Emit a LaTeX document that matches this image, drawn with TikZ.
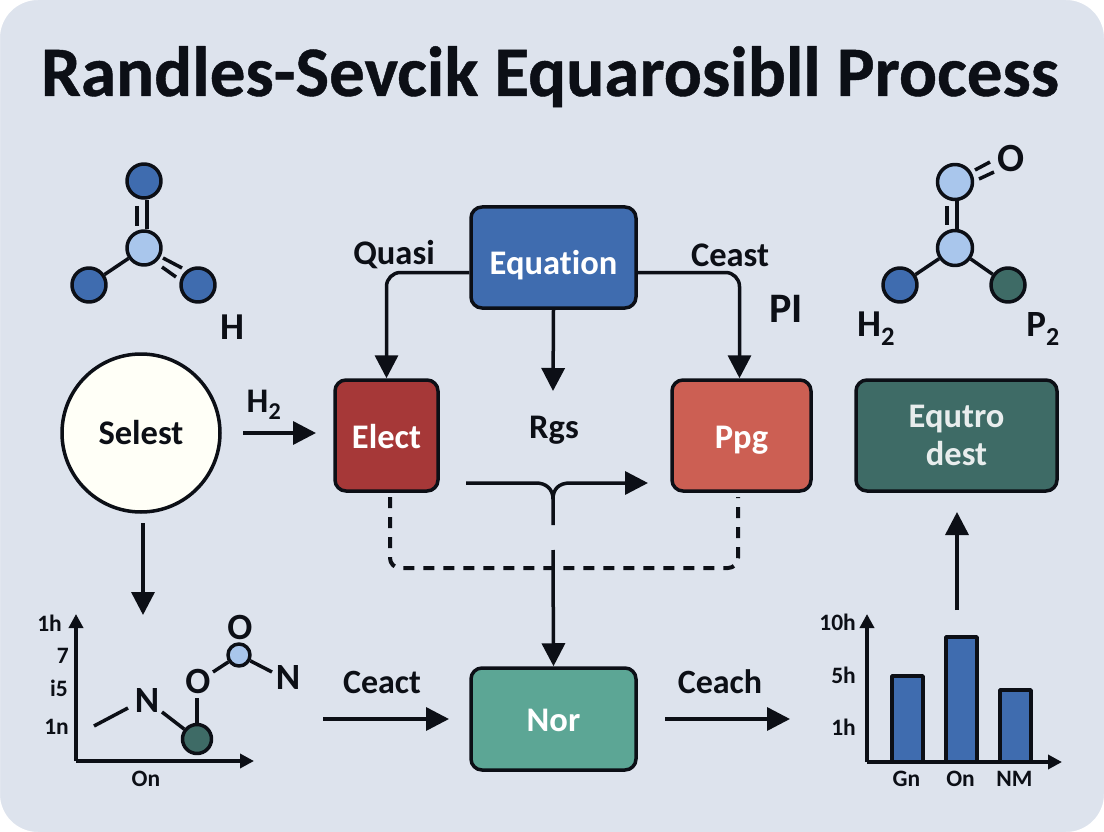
\documentclass[tikz,border=0pt]{standalone}
\usepackage{fontspec}
\setmainfont[Ligatures=NoCommon]{Carlito}
\newfontfamily\titlefont[Ligatures=NoCommon, BoldFeatures={FakeBold=0.6}]{Carlito}
\usetikzlibrary{arrows.meta, positioning, calc}
\definecolor{rspage}{HTML}{DDE3ED}
\definecolor{rsink}{HTML}{0C0F16}
\definecolor{rsblue}{HTML}{3F6CAF}
\definecolor{rslight}{HTML}{A9C6EC}
\definecolor{rsdeepred}{HTML}{A63838}
\definecolor{rsred}{HTML}{CC5F53}
\definecolor{rspine}{HTML}{3E6B66}
\definecolor{rsteal}{HTML}{5CA695}
\tikzset{
  box/.style={draw=rsink, line width=3.5pt, rounded corners=11pt, inner sep=0pt, align=center,
              text=white, font=\bfseries\fontsize{34.5}{38}\selectfont},
  lab/.style={text=rsink, inner sep=0pt, font=\bfseries\fontsize{34.5}{38}\selectfont},
  big/.style={text=rsink, inner sep=0pt, font=\bfseries\fontsize{37}{40}\selectfont},
  tick/.style={text=rsink, inner sep=0pt, font=\bfseries\fontsize{23.5}{26}\selectfont},
  atom/.style={circle, draw=rsink, line width=3.5pt, inner sep=0pt, minimum size=#1},
  bond/.style={draw=rsink, line width=3.5pt},
  flow/.style={draw=rsink, line width=3.5pt, -{Triangle[length=23pt,width=23pt]}},
  axis/.style={draw=rsink, line width=3.5pt, -{Triangle[length=14pt,width=14pt]}},
}
\begin{document}
\begin{tikzpicture}[x=1pt, y=-1pt, line join=round]
  \useasboundingbox (0,0) rectangle (1104,832);
  \fill[rspage] (0,0) rectangle (1104,832);
  \node[inner sep=0pt, text=rsink, anchor=base] (title) at (550,96)
    {\titlefont\bfseries\fontsize{71}{74}\selectfont Randles-Sevcik Equarosibll Process};

  % main boxes
  \node[box, fill=rsblue, minimum width=165pt, minimum height=101pt, text height=34pt, text depth=0pt] (equation) at (553.5,257.5) {Equation};
  \node[box, fill=rsdeepred, minimum width=103pt, minimum height=111pt, text height=25pt, text depth=0pt] (elect) at (386.5,435.5) {Elect};
  \node[box, fill=rsred, minimum width=139pt, minimum height=111pt, text height=26pt, text depth=0pt] (ppg) at (741.5,435.5) {Ppg};
  \node[box, fill=rspine, minimum width=201pt, minimum height=111pt, text=white!88!rspine] (equtro) at (956.5,435.5) {Equtro\\dest};
  \node[box, fill=rsteal, minimum width=165pt, minimum height=102pt, text height=24pt, text depth=0pt] (nor) at (553.5,719) {Nor};
  \node[atom=158pt, fill=white!97!yellow, text=rsink, font=\bfseries\fontsize{34.5}{38}\selectfont] (selest) at (141,433) {Selest};

  % labels
  \node[lab] (quasi) at (394,255) {Quasi};
  \node[lab] (ceast) at (730,255) {Ceast};
  \node[big, font=\bfseries\fontsize{42}{44}\selectfont] (pi) at (786,309) {PI};
  \node[lab] (rgs) at (554,430) {Rgs};
  \node[lab] (htwo) at (264,405) {H\textsubscript{2}};
  \node[big, font=\bfseries\fontsize{34}{38}\selectfont] (ceact) at (382,682) {Ceact};
  \node[big, font=\bfseries\fontsize{34}{38}\selectfont] (ceach) at (720,682) {Ceach};

  % connectors
  \coordinate (eqleft) at ($(equation.west)+(0,15)$);
  \coordinate (eqright) at ($(equation.east)+(0,15)$);
  \draw[flow, rounded corners=14pt] (eqleft) -| (elect.north);
  \draw[flow, rounded corners=14pt] (eqright) -| ($(ppg.north)+(-2,0)$);
  \coordinate (rgsend) at (553,391);
  \draw[flow] (equation.south) -- (rgsend);
  \coordinate (forkl) at (466,483);
  \coordinate (forkr) at (648,483);
  \coordinate (forkm) at (553,525);
  \draw[bond] (forkl) -- (536,483) .. controls (546,483) and (553,489) .. (553,499) -- (forkm);
  \draw[flow] (553,499) .. controls (553,489) and (559,483) .. (570,483) -- (forkr);
  \coordinate (dashl) at (390,497);
  \coordinate (dashr) at (738,497);
  \draw[draw=rsink, line width=4pt, dash pattern=on 11pt off 9pt, rounded corners=10pt]
    (dashl) -- (390,568) -- (738,568) -- (dashr);
  \coordinate (norin) at (553,550);
  \draw[flow] (norin) -- (nor.north);
  \coordinate (selout) at (243,433);
  \coordinate (elin) at (316,433);
  \draw[flow] (selout) -- (elin);
  \coordinate (seldown) at (143,523);
  \coordinate (selend) at (143,615);
  \draw[flow] (seldown) -- (selend);
  \coordinate (ceactl) at (323,719);
  \coordinate (ceactr) at (449,719);
  \draw[flow] (ceactl) -- (ceactr);
  \coordinate (ceachl) at (665,719);
  \coordinate (ceachr) at (790,719);
  \draw[flow] (ceachl) -- (ceachr);
  \coordinate (upl) at (957,610);
  \coordinate (upr) at (957,512);
  \draw[flow] (upl) -- (upr);

  % left molecule
  \node[atom=34pt, fill=rslight] (lc) at (144,248) {};
  \node[atom=34pt, fill=rsblue] (lt) at (144,181) {};
  \node[atom=34pt, fill=rsblue] (ll) at (89,285) {};
  \node[atom=34pt, fill=rsblue] (lr) at (198,285) {};
  \draw[bond] ($(lc.north)+(3,0)$) -- ($(lt.south)+(3,0)$);
  \draw[bond] (137,206) -- (137,226);
  \draw[bond] (lc) -- (ll);
  \draw[bond] (163,258) -- (182,268);
  \draw[bond] (162,267) -- (176,277);
  \node[big, font=\bfseries\fontsize{38}{40}\selectfont] (hleft) at (232,327) {H};

  % right molecule
  \node[atom=35pt, fill=rslight] (rc) at (955,248) {};
  \node[atom=35pt, fill=rslight] (rt) at (955,182) {};
  \node[atom=34pt, fill=rsblue] (rl) at (900,285) {};
  \node[atom=34pt, fill=rspine] (rr) at (1008,285) {};
  \draw[bond] ($(rc.north)+(2,0)$) -- ($(rt.south)+(2,0)$);
  \draw[bond] (947,206) -- (947,225);
  \draw[bond] (rc) -- (rl);
  \draw[bond] (rc) -- (rr);
  \node[big, font=\bfseries\fontsize{40}{40}\selectfont] (oright) at (1011,159) {O};
  \draw[bond] (975,170) -- (990,162);
  \draw[bond] (979,179) -- (994,172);
  \node[big, font=\bfseries\fontsize{38}{40}\selectfont] (hright) at (876,329) {H\textsubscript{2}};
  \node[big, font=\bfseries\fontsize{37}{40}\selectfont] (pright) at (1043,329) {P\textsubscript{2}};

  % left plot
  \coordinate (lo) at (76,761);
  \draw[axis] (lo) -- (76,614);
  \draw[axis] (lo) -- (254,761);
  \foreach \tx/\ty/\tl/\tn in {62/623/1h/a, 69/656/7/b, 68/688/i5/c, 69/727/1n/d}
    \node[tick, anchor=east] (ltick\tn) at (\tx,\ty) {\tl};
  \node[tick] (lxlab) at (146,779) {On};
  \node[big] (na) at (147,701) {N};
  \node[big] (ob) at (198,681) {O};
  \node[big] (oc) at (240,627) {O};
  \node[big] (nb) at (288,677) {N};
  \node[atom=29pt, fill=rspine] (gr) at (197,739) {};
  \node[atom=22pt, fill=rslight] (bl) at (239,655) {};
  \coordinate (tail) at (94,726);
  \draw[bond] (tail) -- (128,708);
  \draw[bond] (162,712) -- (gr);
  \draw[bond] (gr) -- (197,698);
  \draw[bond] (213,672) -- (bl);
  \draw[bond] (bl) -- (272,672);

  % right plot
  \foreach \bx/\btop/\bl/\bn in {907.5/676/Gn/a, 961.5/637/On/b, 1015.5/690/NM/c} {
    \draw[draw=rsink, fill=rsblue, line width=3.5pt] (\bx-15.5,762) rectangle (\bx+15.5,\btop);
    \node[tick] (rxlab\bn) at (\bx-1,779) {\bl};
  }
  \coordinate (ro) at (867,762);
  \draw[axis] (ro) -- (867,614);
  \draw[axis] (ro) -- (1062,762);
  \foreach \ty/\tl/\tn in {622/10h/a, 675/5h/b, 727/1h/c}
    \node[tick, anchor=east] (rtick\tn) at (856,\ty) {\tl};

  % page corners
  \fill[white, even odd rule] (0,0) rectangle (1104,832)
    [rounded corners=38pt] (0,0) rectangle (1104,832);
\end{tikzpicture}
\end{document}
